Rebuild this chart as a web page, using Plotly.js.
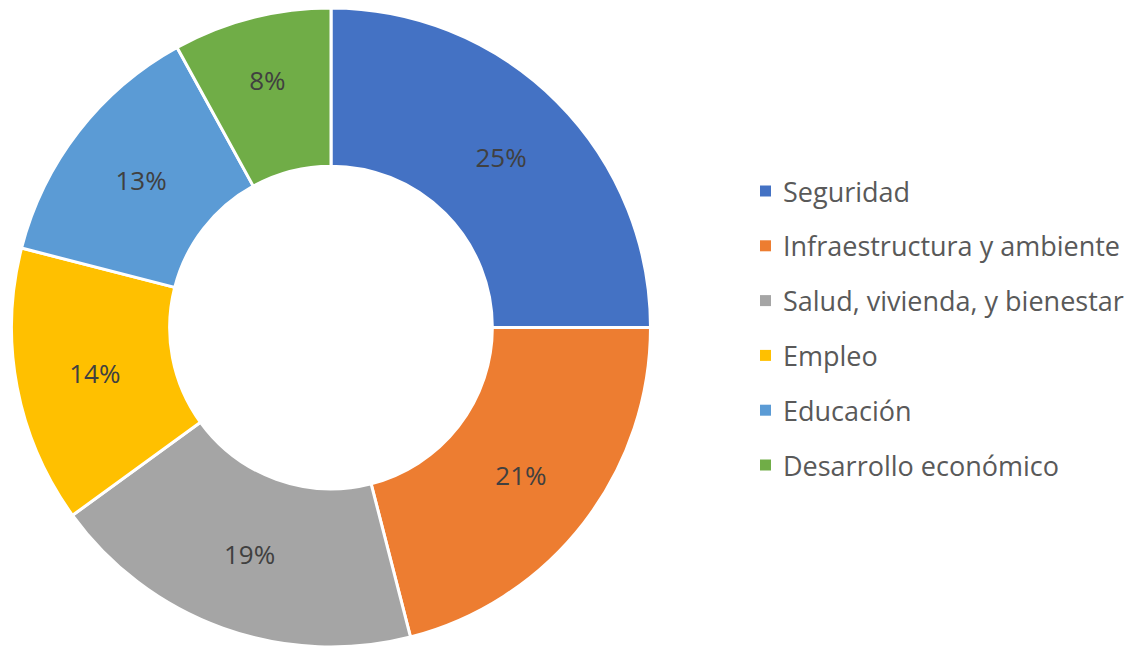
<!DOCTYPE html>
<html>
<head>
<meta charset="utf-8">
<script src="https://cdn.plot.ly/plotly-3.0.1.min.js"></script>
<style>html,body{margin:0;padding:0;background:#fff;}#chart{width:1138px;height:647px;}</style>
</head>
<body>
<div id="chart"></div>
<script>
const categories = ["Seguridad", "Infraestructura y ambiente", "Salud, vivienda, y bienestar", "Empleo", "Educación", "Desarrollo económico"];
const values = [25, 21, 19, 14, 13, 8];
const colors = ["#4472C4", "#ED7D31", "#A5A5A5", "#FFC000", "#5B9BD5", "#70AD47"];

const W = 1138, H = 647, T = 8, B = 0;
const px2x = p => p / W;
const px2y = p => (H - B - p) / (H - T - B);

const legendTop = 191, legendStep = 54.8, sq = 11, sqX = 760, textX = 781;
const annotations = [], shapes = [];
categories.forEach((c, i) => {
  const yc = legendTop + i * legendStep;
  shapes.push({type: 'rect', xref: 'paper', yref: 'paper',
    x0: px2x(sqX), x1: px2x(sqX + sq), y0: px2y(yc + sq / 2), y1: px2y(yc - sq / 2),
    fillcolor: colors[i], line: {width: 0}});
  annotations.push({xref: 'paper', yref: 'paper', x: px2x(textX), y: px2y(yc),
    xanchor: 'left', yanchor: 'middle', showarrow: false, text: c,
    font: {family: 'Open Sans, sans-serif', size: 27, color: '#595959'}});
});

const data = [{
  type: 'pie', labels: categories, values: values, hole: 0.505,
  sort: false, direction: 'clockwise', rotation: 0,
  marker: {colors: colors, line: {color: '#ffffff', width: 3}},
  texttemplate: '%{percent:.0%}', textposition: 'inside',
  insidetextorientation: 'horizontal',
  textfont: {family: 'Open Sans, sans-serif', size: 26, color: '#404040'},
  domain: {x: [11 / W, 651 / W], y: [0, 1]},
  hoverinfo: 'label+percent'
}];
const layout = {
  width: W, height: H, margin: {l: 0, r: 0, t: T, b: B},
  showlegend: false, paper_bgcolor: '#fff', plot_bgcolor: '#fff',
  annotations: annotations, shapes: shapes
};
Plotly.newPlot('chart', data, layout, {displayModeBar: false, staticPlot: true});
</script>
</body>
</html>
